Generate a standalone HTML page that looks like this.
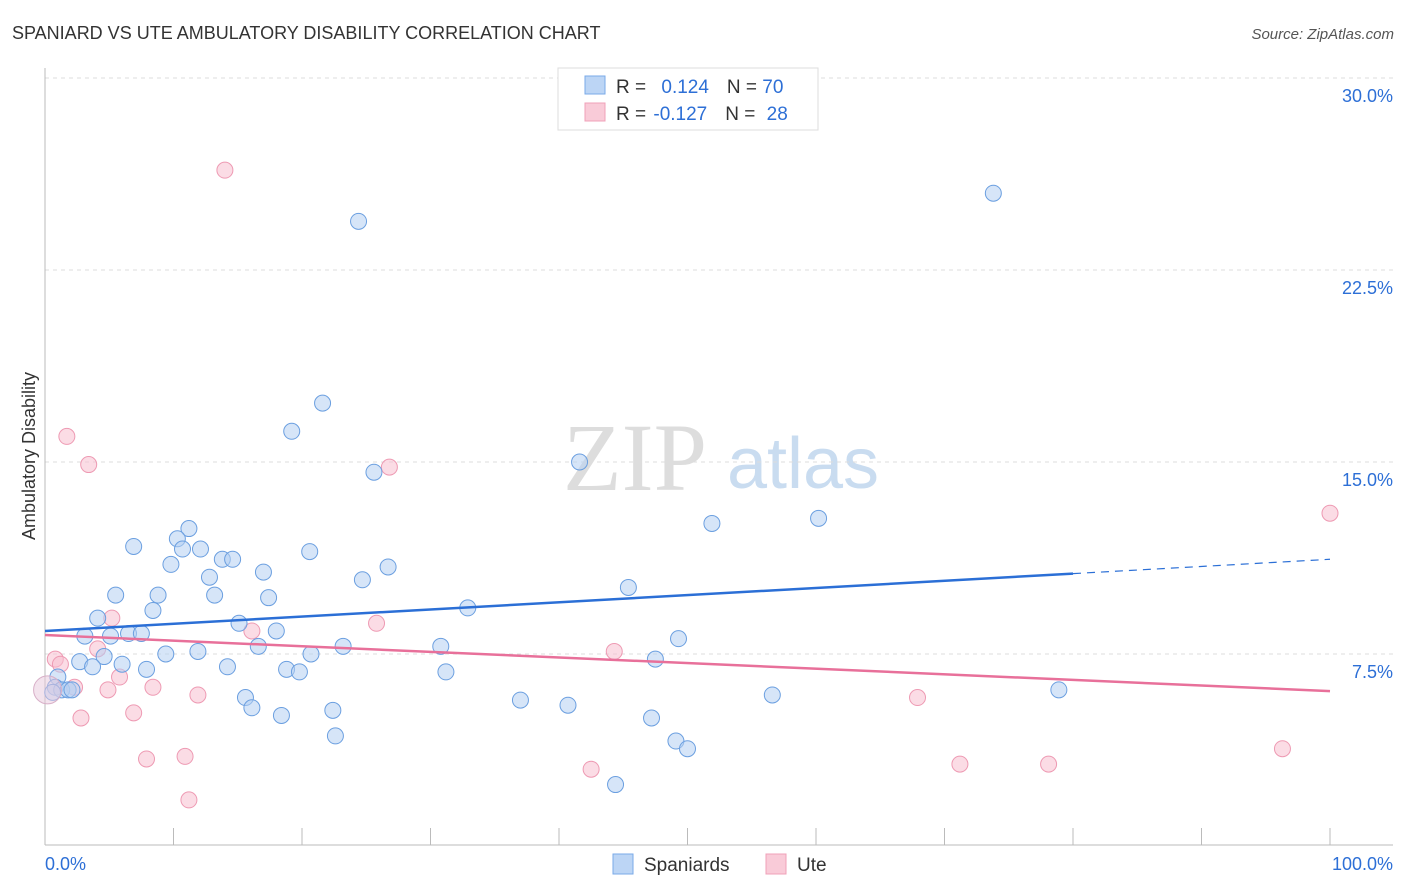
<!DOCTYPE html>
<html><head><meta charset="utf-8"><style>
body{margin:0;background:#fff;font-family:"Liberation Sans",sans-serif}
svg{display:block}
</style></head><body>
<svg id="chart" width="1406" height="892">
<text x="12" y="39" font-size="18" fill="#333">SPANIARD VS UTE AMBULATORY DISABILITY CORRELATION CHART</text>
<text x="1394" y="39" font-size="15" fill="#555" font-style="italic" text-anchor="end">Source: ZipAtlas.com</text>
<text x="635" y="490" font-size="96" fill="#ddd" font-family="Liberation Serif" text-anchor="middle">ZIP</text>
<text x="803" y="488" font-size="72" fill="#c9dcf0" text-anchor="middle">atlas</text>
<text transform="translate(35,456) rotate(-90)" font-size="18" fill="#333" text-anchor="middle">Ambulatory Disability</text>
<g id="grid"></g><g id="marks"></g>
<g>
<rect x="558" y="68" width="260" height="62" fill="#fff" stroke="#ddd"/>
<rect x="585" y="76" width="20" height="18" fill="#bcd5f5" stroke="#7aaae8"/>
<text x="616" y="93" font-size="19" fill="#333">R = <tspan fill="#2d6fd6" dx="10">0.124</tspan><tspan dx="18">N = </tspan><tspan fill="#2d6fd6">70</tspan></text>
<rect x="585" y="103" width="20" height="18" fill="#f9cbd8" stroke="#f0a0b8"/>
<text x="616" y="120" font-size="19" fill="#333">R = <tspan fill="#2d6fd6" dx="2">-0.127</tspan><tspan dx="18">N = </tspan><tspan fill="#2d6fd6" dx="6">28</tspan></text>
</g>
<g>
<rect x="613" y="854" width="20" height="20" fill="#bcd5f5" stroke="#7aaae8"/>
<text x="644" y="871" font-size="19" fill="#333">Spaniards</text>
<rect x="766" y="854" width="20" height="20" fill="#f9cbd8" stroke="#f0a0b8"/>
<text x="797" y="871" font-size="19" fill="#333">Ute</text>
</g>
</svg>
<script>
const yTicks=[7.5,15,22.5,30];
const yTickLabels=["7.5%","15.0%","22.5%","30.0%"];
const xTickLabels=["0.0%","100.0%"];
const blueX=[73.8,24.4,21.6,19.2,41.6,25.6,51.9,60.2,11.2,10.3,6.9,10.7,12.1,20.6,13.8,14.6,9.8,26.7,17.0,12.8,24.7,45.4,5.5,8.8,13.2,17.4,8.4,32.9,4.1,15.1,18.0,3.1,5.1,6.5,7.5,49.3,16.6,23.2,30.8,9.4,11.9,20.7,4.6,47.5,2.7,6.0,3.7,7.9,14.2,18.8,19.8,31.2,1.0,0.8,1.3,1.8,2.1,0.6,78.9,56.6,15.6,37.0,40.7,16.1,22.4,18.4,47.2,22.6,49.1,50.0,44.4];
const blueY=[25.5,24.4,17.3,16.2,15.0,14.6,12.6,12.8,12.4,12.0,11.7,11.6,11.6,11.5,11.2,11.2,11.0,10.9,10.7,10.5,10.4,10.1,9.8,9.8,9.8,9.7,9.2,9.3,8.9,8.7,8.4,8.2,8.2,8.3,8.3,8.1,7.8,7.8,7.8,7.5,7.6,7.5,7.4,7.3,7.2,7.1,7.0,6.9,7.0,6.9,6.8,6.8,6.6,6.2,6.1,6.1,6.1,6.0,6.1,5.9,5.8,5.7,5.5,5.4,5.3,5.1,5.0,4.3,4.1,3.8,2.4];
const pinkX=[14.0,1.7,3.4,26.8,100,5.2,16.1,25.8,44.3,4.1,0.8,1.2,5.8,2.3,8.4,4.9,11.9,67.9,6.9,2.8,7.9,10.9,42.5,71.2,78.1,96.3,11.2];
const pinkY=[26.4,16.0,14.9,14.8,13.0,8.9,8.4,8.7,7.6,7.7,7.3,7.1,6.6,6.2,6.2,6.1,5.9,5.8,5.2,5.0,3.4,3.5,3.0,3.2,3.2,3.8,1.8];
const blueTrend=[8.4,11.2];
const pinkTrend=[8.24,6.05];
const NS="http://www.w3.org/2000/svg";
const X=v=>45+v*12.85, Y=v=>846-v*25.6;
function mk(t,a,p){const e=document.createElementNS(NS,t);for(const k in a)e.setAttribute(k,a[k]);p.appendChild(e);return e;}
const g=document.getElementById('grid'), m=document.getElementById('marks');
yTicks.forEach((t,i)=>{
 const l=mk('line',{x1:45,x2:1393,y1:Y(t),y2:Y(t),stroke:'#ddd','stroke-dasharray':'4,4'},g);
 
 
 const tx=mk('text',{x:1393,y:Y(t)+24,'font-size':18,fill:'#2d6fd6','text-anchor':'end'},g);
 tx.textContent=yTickLabels[i];
 
 
});
const ax=mk('line',{x1:45,x2:45,y1:68,y2:845,stroke:'#bbb'},g);


const bx=mk('line',{x1:45,x2:1393,y1:845,y2:845,stroke:'#bbb'},g);


for(let i=1;i<=10;i++){const t=mk('line',{x1:X(i*10),x2:X(i*10),y1:828,y2:845,stroke:'#bbb'},g);
 
 }
[[45,'start',xTickLabels[0]],[1393,'end',xTickLabels[1]]].forEach(([x,a,s])=>{const t=mk('text',{x:x,y:870,'font-size':18,fill:'#2d6fd6','text-anchor':a},g);t.textContent=s;
 
 });
function pts(xs,ys,fill,stroke,name){xs.forEach((x,i)=>{const c=mk('circle',{cx:X(x),cy:Y(ys[i]),r:8,fill:fill,'fill-opacity':0.55,stroke:stroke,'stroke-width':1},m);
 
 });}
pts(pinkX,pinkY,'#f7c0d0','#ee9ab3','ute-point');
pts(blueX,blueY,'#b5d0f3','#6b9fe0','spaniard-point');
const big=mk('circle',{cx:X(0.2),cy:Y(6.1),r:14,fill:'#e8c8dc','fill-opacity':0.5,stroke:'#d8b0c8'},m);


const ty=x=>blueTrend[0]+(blueTrend[1]-blueTrend[0])*x/100;
const l1=mk('line',{x1:X(0),y1:Y(ty(0)),x2:X(80),y2:Y(ty(80)),stroke:'#2b6fd6','stroke-width':2.5},m);


const l2=mk('line',{x1:X(80),y1:Y(ty(80)),x2:X(100),y2:Y(ty(100)),stroke:'#2b6fd6','stroke-width':1.2,'stroke-dasharray':'8,6'},m);


const l3=mk('line',{x1:X(0),y1:Y(pinkTrend[0]),x2:X(100),y2:Y(pinkTrend[1]),stroke:'#e8709a','stroke-width':2.5},m);


</script>
</body></html>
